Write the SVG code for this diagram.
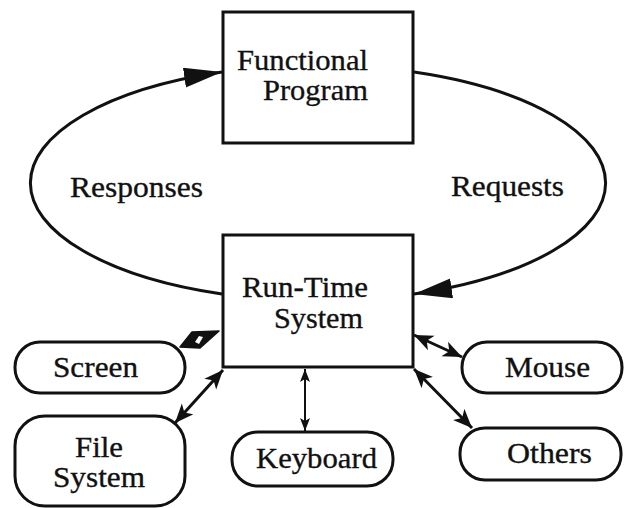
<svg xmlns="http://www.w3.org/2000/svg" width="625" height="508" viewBox="0 0 625 508">
<style>
.box{fill:#fff;stroke:#111;stroke-width:3}
.t{font-family:"Liberation Serif","Times New Roman",serif;font-size:30px;fill:#111;stroke:#111;stroke-width:0.35}
.c{fill:none;stroke:#111;stroke-width:3}
.thin{fill:none;stroke:#111;stroke-width:2}
</style>
<defs>
<marker id="big" markerUnits="userSpaceOnUse" markerWidth="42" markerHeight="22" refX="38" refY="10" orient="auto">
<path d="M0,0 L38,10 L0,20 Z" fill="#111"/>
</marker>
<marker id="mid" markerUnits="userSpaceOnUse" markerWidth="22" markerHeight="18" refX="19" refY="8" orient="auto-start-reverse">
<path d="M0,0 L19,8 L0,16 L5,8 Z" fill="#111"/>
</marker>
<marker id="sm" markerUnits="userSpaceOnUse" markerWidth="16" markerHeight="12" refX="13" refY="5" orient="auto-start-reverse">
<path d="M0,0 L13,5 L0,10 L3,5 Z" fill="#111"/>
</marker>
</defs>
<rect width="625" height="508" fill="#fff"/>
<g id="connectors">
<path class="c" d="M 222 294 A 290 118 0 0 1 222 72" marker-end="url(#big)"/>
<path class="c" d="M 414 72 A 290 118 0 0 1 414 294" marker-end="url(#big)"/>
<line class="c" x1="175" y1="423" x2="223" y2="370" marker-start="url(#mid)" marker-end="url(#mid)"/>
<line class="thin" x1="305" y1="369" x2="305" y2="431" marker-start="url(#sm)" marker-end="url(#sm)"/>
<line class="c" x1="414" y1="335" x2="462" y2="357" marker-start="url(#mid)" marker-end="url(#mid)"/>
<line class="c" x1="414" y1="369" x2="472" y2="428" marker-start="url(#mid)" marker-end="url(#mid)"/>
<g id="screen-arrow">
<path d="M180,347 L192,332 L219,331 L200,348 Z" fill="#111" stroke="#111" stroke-width="1.5" stroke-linejoin="round"/>
<path d="M195,342 L199,336 L203,337 L199,344 Z" fill="#fff"/>
</g>
</g>
<g id="functional-program">
<rect class="box" x="223" y="12" width="190" height="131"/>
<text class="t" x="237" y="70" textLength="131" lengthAdjust="spacingAndGlyphs">Functional</text>
<text class="t" x="263" y="100" textLength="105" lengthAdjust="spacingAndGlyphs">Program</text>
</g>
<g id="responses-label"><text class="t" x="70" y="197" textLength="133" lengthAdjust="spacingAndGlyphs">Responses</text></g>
<g id="requests-label"><text class="t" x="451" y="196" textLength="113" lengthAdjust="spacingAndGlyphs">Requests</text></g>
<g id="run-time-system">
<rect class="box" x="223" y="235" width="190" height="132"/>
<text class="t" x="242" y="297" textLength="126" lengthAdjust="spacingAndGlyphs">Run-Time</text>
<text class="t" x="274" y="328" textLength="89" lengthAdjust="spacingAndGlyphs">System</text>
</g>
<g id="screen">
<rect class="box" x="15" y="342" width="170" height="51" rx="25" ry="25"/>
<text class="t" x="53" y="377" textLength="85" lengthAdjust="spacingAndGlyphs">Screen</text>
</g>
<g id="file-system">
<rect class="box" x="15" y="416" width="170" height="90" rx="30" ry="30"/>
<text class="t" x="75" y="457" textLength="48" lengthAdjust="spacingAndGlyphs">File</text>
<text class="t" x="53" y="487" textLength="92" lengthAdjust="spacingAndGlyphs">System</text>
</g>
<g id="keyboard">
<rect class="box" x="232" y="432" width="161" height="54" rx="26" ry="26"/>
<text class="t" x="256" y="468" textLength="121" lengthAdjust="spacingAndGlyphs">Keyboard</text>
</g>
<g id="mouse">
<rect class="box" x="462" y="342" width="160" height="51" rx="25" ry="25"/>
<text class="t" x="505" y="377" textLength="85" lengthAdjust="spacingAndGlyphs">Mouse</text>
</g>
<g id="others">
<rect class="box" x="460" y="428" width="161" height="52" rx="25" ry="25"/>
<text class="t" x="507" y="463" textLength="85" lengthAdjust="spacingAndGlyphs">Others</text>
</g>
</svg>
